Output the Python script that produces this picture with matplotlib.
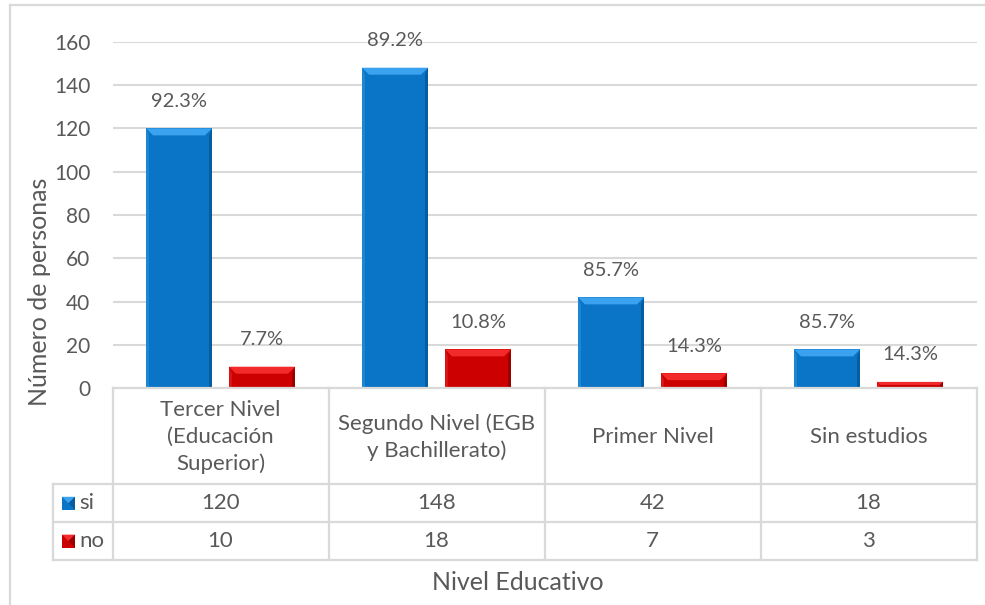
import matplotlib
matplotlib.use("Agg")
import matplotlib.pyplot as plt
from matplotlib.patches import Polygon, Rectangle
from matplotlib.lines import Line2D

plt.rcParams['font.family'] = ['Lato', 'DejaVu Sans']

# ---- data ----
categories = ["Tercer Nivel\n(Educación\nSuperior)",
              "Segundo Nivel (EGB\ny Bachillerato)",
              "Primer Nivel",
              "Sin estudios"]
series_names = ["si", "no"]
si_values = [120, 148, 42, 18]
no_values = [10, 18, 7, 3]
y_ticks = [0, 20, 40, 60, 80, 100, 120, 140, 160]

W, H = 985, 605
TXT = "#595959"
GRID = "#D9D9D9"
BLUE = dict(face="#0A74C6", top="#3AA2EE", left="#1C86D6", right="#065C9E")
RED = dict(face="#CC0000", top="#F22A2A", left="#DA1414", right="#9A0000")
FS = 16

fig = plt.figure(figsize=(W / 100, H / 100), dpi=100)


def fx(px):
    return px / W


def fy(py):
    return 1 - py / H


ax_left, ax_right, ax_top, ax_bottom = 112.5, 976.5, 41.7, 388.4
ax = fig.add_axes([fx(ax_left), fy(ax_bottom), fx(ax_right - ax_left), (ax_bottom - ax_top) / H])
ax.set_xlim(-0.5, len(categories) - 0.5)
ax.set_ylim(0, 160)
for s in ax.spines.values():
    s.set_visible(False)
ax.set_yticks(y_ticks)
ax.set_xticks([])
ax.tick_params(axis='y', length=0, pad=16, labelsize=15, labelcolor=TXT)
ax.yaxis.grid(True, color=GRID, linewidth=1.5)
ax.set_axisbelow(True)

px_per_x = (ax_right - ax_left) / len(categories)
px_per_y = (ax_bottom - ax_top) / 160.0


def bevel_bar(xc, width, height, c):
    x0, x1 = xc - width / 2, xc + width / 2
    ax.add_patch(Rectangle((x0, 0), width, height, facecolor=c["face"], edgecolor='none', zorder=3))
    bev = min(7.0, height * px_per_y / 2.2)
    dx = bev / px_per_x
    dy = bev / px_per_y
    top = height
    # top bevel
    ax.add_patch(Polygon([(x0, top), (x1, top), (x1 - dx, top - dy), (x0 + dx, top - dy)],
                         closed=True, facecolor=c["top"], edgecolor='none', zorder=4))
    # side bevels
    sdx = 3.0 / px_per_x
    ax.add_patch(Polygon([(x0, top), (x0 + sdx, top - dy), (x0 + sdx, 0), (x0, 0)],
                         closed=True, facecolor=c["left"], edgecolor='none', zorder=4))
    ax.add_patch(Polygon([(x1, top), (x1 - sdx, top - dy), (x1 - sdx, 0), (x1, 0)],
                         closed=True, facecolor=c["right"], edgecolor='none', zorder=4))


bar_w = 66 / px_per_x
offset = 41.5 / px_per_x
for i in range(len(categories)):
    total = si_values[i] + no_values[i]
    for val, off, col in ((si_values[i], -offset, BLUE), (no_values[i], offset, RED)):
        bevel_bar(i + off, bar_w, val, col)
        ax.annotate(f"{100 * val / total:.1f}%", (i + off, val), xytext=(0, 19.5),
                    textcoords='offset points', ha='center', va='center',
                    fontsize=14.5, color=TXT, zorder=5)

# ---- data table ----
leg_left = 52.7
row_cat_top, row_si_top, row_no_top, row_bottom = 388.4, 484.3, 522.3, 560.0
col_edges = [ax_left + k * px_per_x for k in range(len(categories) + 1)]


def hline(y, x0, x1):
    fig.add_artist(Line2D([fx(x0), fx(x1)], [fy(y), fy(y)], color=GRID, linewidth=1.6))


def vline(x, y0, y1):
    fig.add_artist(Line2D([fx(x), fx(x)], [fy(y0), fy(y1)], color=GRID, linewidth=1.6))


hline(row_cat_top, ax_left, ax_right)
for y in (row_si_top, row_no_top, row_bottom):
    hline(y, leg_left, ax_right)
vline(leg_left, row_si_top, row_bottom)
for x in col_edges:
    vline(x, row_cat_top, row_bottom)

for i, cat in enumerate(categories):
    cx = (col_edges[i] + col_edges[i + 1]) / 2
    fig.text(fx(cx), fy((row_cat_top + row_si_top) / 2 + 1), cat, ha='center', va='center',
             fontsize=FS, color=TXT, linespacing=1.41)
    fig.text(fx(cx), fy((row_si_top + row_no_top) / 2), str(si_values[i]), ha='center',
             va='center', fontsize=FS, color=TXT)
    fig.text(fx(cx), fy((row_no_top + row_bottom) / 2), str(no_values[i]), ha='center',
             va='center', fontsize=FS, color=TXT)

# legend keys inside the table
for name, col, (r0, r1) in ((series_names[0], BLUE, (row_si_top, row_no_top)),
                            (series_names[1], RED, (row_no_top, row_bottom))):
    cy = (r0 + r1) / 2
    kx0, kx1 = 62, 75
    ky0, ky1 = cy - 6.5, cy + 6.5
    fig.add_artist(Polygon([(fx(kx0), fy(ky0)), (fx(kx1), fy(ky0)), (fx(kx1), fy(ky1)), (fx(kx0), fy(ky1))],
                           closed=True, facecolor=col["face"], edgecolor='none'))
    fig.add_artist(Polygon([(fx(kx0), fy(ky0)), (fx(kx1), fy(ky0)), (fx((kx0 + kx1) / 2), fy(cy))],
                           closed=True, facecolor=col["top"], edgecolor='none'))
    fig.add_artist(Polygon([(fx(kx1), fy(ky0)), (fx(kx1), fy(ky1)), (fx((kx0 + kx1) / 2), fy(cy))],
                           closed=True, facecolor=col["right"], edgecolor='none'))
    fig.text(fx(79), fy(cy), name, ha='left', va='center', fontsize=FS, color=TXT)

# axis titles
fig.text(fx(40), fy(292), "Número de personas", rotation=90, ha='center', va='center',
         fontsize=18, color=TXT)
fig.text(fx(518), fy(583), "Nivel Educativo", ha='center', va='center', fontsize=18, color=TXT)

# chart frame
fig.add_artist(Line2D([fx(10), fx(10)], [fy(5), fy(H + 5)], color=GRID, linewidth=1.6))
fig.add_artist(Line2D([fx(10), fx(W + 5)], [fy(5), fy(5)], color=GRID, linewidth=1.6))

fig.savefig("out.png", dpi=100)
